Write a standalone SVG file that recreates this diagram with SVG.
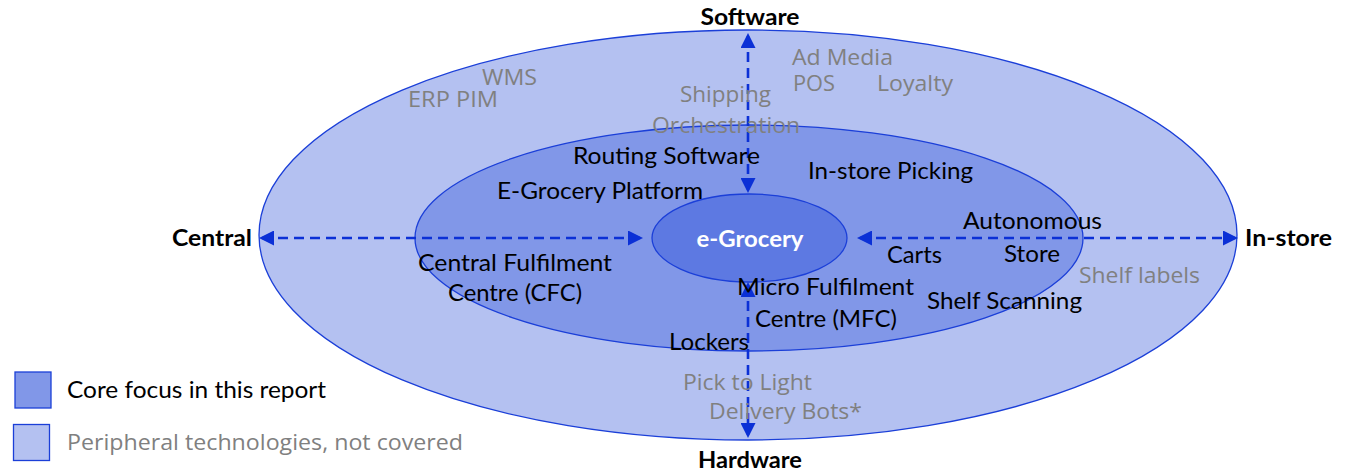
<svg xmlns="http://www.w3.org/2000/svg" width="1349" height="471" viewBox="0 0 1349 471">
  <defs>
    <style>
      .ring { stroke: #1b3fd8; stroke-width: 1.3; }
      .outer { fill: #b4c1f1; }
      .middle { fill: #8197e8; }
      .inner { fill: #5d79e2; }
      .axis { fill: none; stroke: #0b30d6; stroke-width: 2.6; stroke-dasharray: 10 6; }
      .t { font-family: Lato, "Liberation Sans", sans-serif; font-size: 23px; }
      .core { fill: #000; }
      .peri { fill: #808080; font-family: "Open Sans", "Noto Sans", sans-serif; font-size: 21px; }
      .axisLabel { font-family: Lato, "Liberation Sans", sans-serif; font-size: 22px; font-weight: bold; fill: #000; }
      .hub { font-family: Lato, "Liberation Sans", sans-serif; font-size: 23px; font-weight: bold; fill: #fff; }
    </style>
    <marker id="arrow" viewBox="0 0 15 15" refX="12" refY="7.5" markerWidth="15" markerHeight="15" markerUnits="userSpaceOnUse" orient="auto-start-reverse">
      <path d="M0,0 L15,7.5 L0,15 Z" fill="#0b30d6"/>
    </marker>
  </defs>

  <rect width="1349" height="471" fill="#fff"/>

  <!-- Rings -->
  <g id="ring-peripheral">
    <ellipse class="ring outer" cx="748" cy="235" rx="489" ry="205"/>
  </g>
  <g id="ring-core">
    <ellipse class="ring middle" cx="749" cy="238" rx="334" ry="113"/>
  </g>
  <g id="hub">
    <ellipse class="ring inner" cx="749.5" cy="238" rx="97.5" ry="44"/>
    <text class="hub" x="750" y="247" text-anchor="middle" textLength="107" lengthAdjust="spacingAndGlyphs">e-Grocery</text>
  </g>

  <!-- Axes -->
  <g id="connectors">
    <path class="axis" d="M262,238 H640" marker-start="url(#arrow)" marker-end="url(#arrow)"/>
    <path class="axis" d="M860,238 H1235" marker-start="url(#arrow)" marker-end="url(#arrow)"/>
    <path class="axis" d="M748,36 V190" marker-start="url(#arrow)" marker-end="url(#arrow)"/>
    <path class="axis" d="M748,285 V435" marker-start="url(#arrow)" marker-end="url(#arrow)"/>
  </g>

  <!-- Axis labels -->
  <g id="axis-labels">
    <text class="axisLabel" x="750" y="25" text-anchor="middle" textLength="99" lengthAdjust="spacingAndGlyphs">Software</text>
    <text class="axisLabel" x="750" y="468" text-anchor="middle" textLength="104" lengthAdjust="spacingAndGlyphs">Hardware</text>
    <text class="axisLabel" x="172" y="246" textLength="80" lengthAdjust="spacingAndGlyphs">Central</text>
    <text class="axisLabel" x="1245" y="246" textLength="87" lengthAdjust="spacingAndGlyphs">In-store</text>
  </g>

  <!-- Peripheral technologies -->
  <g id="peripheral-items">
    <text class="peri" x="482" y="85" textLength="55" lengthAdjust="spacingAndGlyphs">WMS</text>
    <text class="peri" x="408" y="107" textLength="90" lengthAdjust="spacingAndGlyphs">ERP PIM</text>
    <text class="peri" x="792" y="65" textLength="101" lengthAdjust="spacingAndGlyphs">Ad Media</text>
    <text class="peri" x="793" y="91" textLength="42" lengthAdjust="spacingAndGlyphs">POS</text>
    <text class="peri" x="877" y="91" textLength="76" lengthAdjust="spacingAndGlyphs">Loyalty</text>
    <text class="peri" x="680" y="102" textLength="91" lengthAdjust="spacingAndGlyphs">Shipping</text>
    <text class="peri" x="652" y="133" textLength="148" lengthAdjust="spacingAndGlyphs">Orchestration</text>
    <text class="peri" x="1079" y="283" textLength="121" lengthAdjust="spacingAndGlyphs">Shelf labels</text>
    <text class="peri" x="683" y="390" textLength="129" lengthAdjust="spacingAndGlyphs">Pick to Light</text>
    <text class="peri" x="709" y="419" textLength="153" lengthAdjust="spacingAndGlyphs">Delivery Bots*</text>
  </g>

  <!-- Core technologies -->
  <g id="core-items">
    <text class="t core" x="573" y="164" textLength="187" lengthAdjust="spacingAndGlyphs">Routing Software</text>
    <text class="t core" x="497" y="199" textLength="206" lengthAdjust="spacingAndGlyphs">E-Grocery Platform</text>
    <text class="t core" x="808" y="179" textLength="165" lengthAdjust="spacingAndGlyphs">In-store Picking</text>
    <text class="t core" x="963" y="229" textLength="139" lengthAdjust="spacingAndGlyphs">Autonomous</text>
    <text class="t core" x="887" y="263" textLength="55" lengthAdjust="spacingAndGlyphs">Carts</text>
    <text class="t core" x="1004" y="262" textLength="56" lengthAdjust="spacingAndGlyphs">Store</text>
    <text class="t core" x="418" y="271" textLength="194" lengthAdjust="spacingAndGlyphs">Central Fulfilment</text>
    <text class="t core" x="448" y="301" textLength="134" lengthAdjust="spacingAndGlyphs">Centre (CFC)</text>
    <text class="t core" x="737" y="295" textLength="177" lengthAdjust="spacingAndGlyphs">Micro Fulfilment</text>
    <text class="t core" x="755" y="327" textLength="142" lengthAdjust="spacingAndGlyphs">Centre (MFC)</text>
    <text class="t core" x="927" y="309" textLength="155" lengthAdjust="spacingAndGlyphs">Shelf Scanning</text>
    <text class="t core" x="669" y="350" textLength="80" lengthAdjust="spacingAndGlyphs">Lockers</text>
  </g>

  <!-- Legend -->
  <g id="legend-core">
    <rect class="ring middle" x="15" y="372" width="36" height="36"/>
    <text class="t core" x="67" y="398" textLength="259" lengthAdjust="spacingAndGlyphs">Core focus in this report</text>
  </g>
  <g id="legend-peripheral">
    <rect class="ring outer" x="13.5" y="424.5" width="36" height="36"/>
    <text class="peri" x="67" y="450" textLength="396" lengthAdjust="spacingAndGlyphs">Peripheral technologies, not covered</text>
  </g>
</svg>
